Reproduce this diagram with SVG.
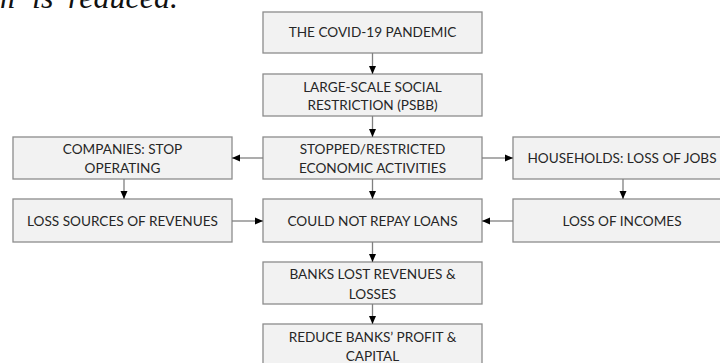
<svg xmlns="http://www.w3.org/2000/svg" width="720" height="363" viewBox="0 0 720 363">
<defs>
<style>
.box{fill:#f2f2f2;stroke:#8c8c8c;stroke-width:1.3}
.t{font-family:Lato,"Liberation Sans",Arial,sans-serif;font-size:13.6px;fill:#262626;text-anchor:middle}
.c{stroke:#808080;stroke-width:1.3;fill:none;marker-end:url(#ah)}
.cap{font-family:"Liberation Serif","Times New Roman",serif;font-style:italic;font-size:32px;fill:#111}
</style>
<marker id="ah" viewBox="0 0 8 8" refX="8" refY="4" markerWidth="8" markerHeight="8" markerUnits="userSpaceOnUse" orient="auto">
<path d="M0,0.5 L8,4 L0,7.5 Z" fill="#000"/>
</marker>
</defs>
<rect width="720" height="363" fill="#fff"/>
<text class="cap" y="8"><tspan x="-8">m</tspan><tspan x="24"> is</tspan><tspan x="60"> reduced.</tspan></text>
<g id="n1"><rect class="box" x="263" y="12" width="219" height="41"/><text class="t" x="372.5" y="37">THE COVID-19 PANDEMIC</text></g>
<g id="n2"><rect class="box" x="263" y="74" width="219" height="42"/><text class="t" x="372.5" y="92">LARGE-SCALE SOCIAL</text><text class="t" x="372.5" y="110">RESTRICTION (PSBB)</text></g>
<g id="n3"><rect class="box" x="263" y="137" width="219" height="42"/><text class="t" x="372.5" y="154">STOPPED/RESTRICTED</text><text class="t" x="372.5" y="173">ECONOMIC ACTIVITIES</text></g>
<g id="n4"><rect class="box" x="13" y="137" width="219" height="42"/><text class="t" x="122.5" y="154">COMPANIES: STOP</text><text class="t" x="122.5" y="173">OPERATING</text></g>
<g id="n5"><rect class="box" x="513" y="137" width="212" height="42"/><text class="t" x="622" y="163">HOUSEHOLDS: LOSS OF JOBS</text></g>
<g id="n6"><rect class="box" x="13" y="199" width="219" height="43"/><text class="t" x="122.5" y="226">LOSS SOURCES OF REVENUES</text></g>
<g id="n7"><rect class="box" x="263" y="199" width="219" height="43"/><text class="t" x="372.5" y="226">COULD NOT REPAY LOANS</text></g>
<g id="n8"><rect class="box" x="513" y="199" width="212" height="43"/><text class="t" x="622" y="226">LOSS OF INCOMES</text></g>
<g id="n9"><rect class="box" x="263" y="262" width="219" height="42"/><text class="t" x="372.5" y="279">BANKS LOST REVENUES &amp;</text><text class="t" x="372.5" y="299">LOSSES</text></g>
<g id="n10"><rect class="box" x="263" y="324" width="219" height="50"/><text class="t" x="372.5" y="342">REDUCE BANKS’ PROFIT &amp;</text><text class="t" x="372.5" y="361">CAPITAL</text></g>
<g id="connectors">
<path class="c" d="M372.5,53 V74"/>
<path class="c" d="M372.5,116 V137"/>
<path class="c" d="M263,158 H232"/>
<path class="c" d="M482,158 H513"/>
<path class="c" d="M124,179 V199"/>
<path class="c" d="M623,179 V199"/>
<path class="c" d="M372.5,179 V199"/>
<path class="c" d="M232,221 H263"/>
<path class="c" d="M513,221 H482"/>
<path class="c" d="M372.5,242 V262"/>
<path class="c" d="M372.5,304 V324"/>
</g>
</svg>
